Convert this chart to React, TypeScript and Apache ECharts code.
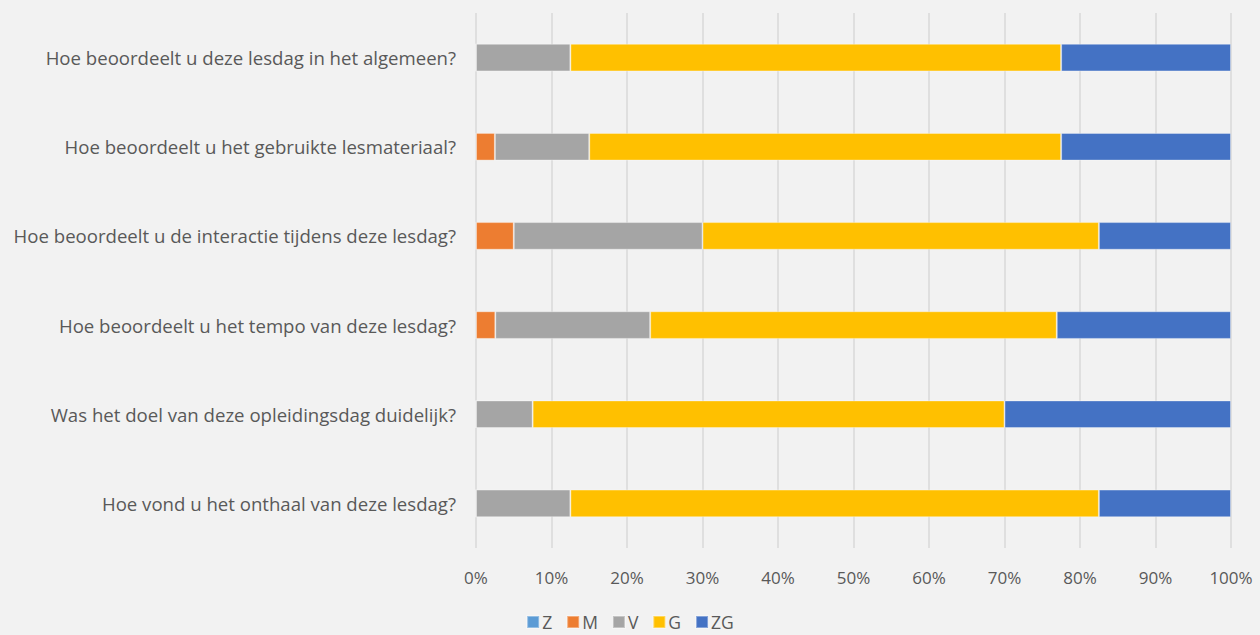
import React, { useEffect, useRef } from "react";
import * as echarts from "echarts";

const questions = [
  "Hoe beoordeelt u deze lesdag in het algemeen?",
  "Hoe beoordeelt u het gebruikte lesmateriaal?",
  "Hoe beoordeelt u de interactie tijdens deze lesdag?",
  "Hoe beoordeelt u het tempo van deze lesdag?",
  "Was het doel van deze opleidingsdag duidelijk?",
  "Hoe vond u het onthaal van deze lesdag?",
];
const seriesNames = ["Z", "M", "V", "G", "ZG"];
const colors = ["#5B9BD5", "#ED7D31", "#A5A5A5", "#FFC000", "#4472C4"];
const zValues = [0, 0, 0, 0, 0, 0];
const mValues = [0, 2.5, 5, 2.56, 0, 0];
const vValues = [12.5, 12.5, 25, 20.51, 7.5, 12.5];
const gValues = [65, 62.5, 52.5, 53.85, 62.5, 70];
const zgValues = [22.5, 22.5, 17.5, 23.08, 30, 17.5];
const xTicks = [0, 10, 20, 30, 40, 50, 60, 70, 80, 90, 100];

export default function App() {
  const ref = useRef<HTMLDivElement>(null);
  useEffect(() => {
    document.body.style.margin = "0";
    const chart = echarts.init(ref.current!, undefined, { renderer: "svg" });
    const allValues = [zValues, mValues, vValues, gValues, zgValues];
    const font = "'Open Sans', sans-serif";
    chart.setOption({
      animation: false,
      backgroundColor: "#F2F2F2",
      textStyle: { fontFamily: font },
      grid: { left: 476, right: 29, top: 13, bottom: 87 },
      xAxis: {
        type: "value",
        min: xTicks[0],
        max: xTicks[xTicks.length - 1],
        interval: 10,
        axisLabel: { formatter: "{value}%", color: "#595959", fontSize: 17, margin: 21, fontFamily: font },
        axisLine: { show: false },
        axisTick: { show: false },
        splitLine: { lineStyle: { color: "#D9D9D9", width: 1.5 } },
      },
      yAxis: {
        type: "category",
        data: questions,
        inverse: true,
        axisLabel: { color: "#595959", fontSize: 18.6, margin: 20, fontFamily: font },
        axisLine: { show: false },
        axisTick: { show: false },
      },
      legend: {
        top: 612,
        left: "center",
        padding: 0,
        itemWidth: 12,
        itemHeight: 12,
        itemGap: 14,
        icon: "rect",
        textStyle: { color: "#595959", fontSize: 17.5, lineHeight: 20, fontFamily: font, padding: [0, 0, 0, -2] },
        data: seriesNames,
      },
      series: seriesNames.map((name, i) => ({
        name,
        type: "bar",
        stack: "total",
        barWidth: "31%",
        data: allValues[i],
        itemStyle: { color: colors[i], borderColor: "rgba(255,255,255,0.35)", borderWidth: 1 },
      })),
    });
    return () => chart.dispose();
  }, []);
  return <div ref={ref} style={{ width: 1260, height: 635 }} />;
}
